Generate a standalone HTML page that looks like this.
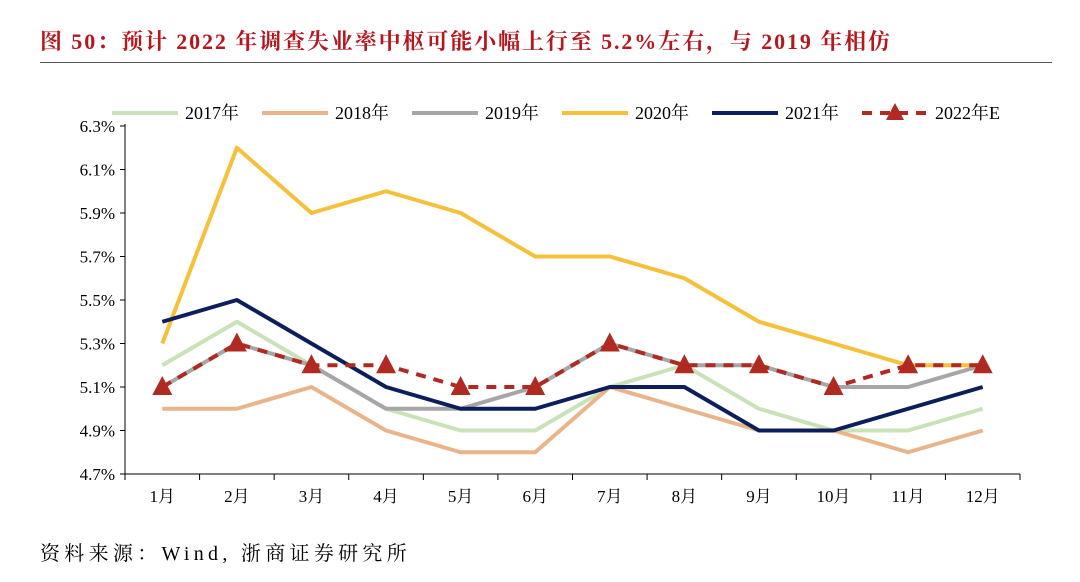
<!DOCTYPE html>
<html><head><meta charset="utf-8">
<style>
body{margin:0;background:#fff;width:1080px;height:582px;overflow:hidden;font-family:"Liberation Serif","Noto Serif CJK SC",serif;}
#title{position:absolute;left:40px;top:25px;font-size:22px;letter-spacing:1.9px;font-weight:bold;color:#b5171e;font-family:"Liberation Serif","Noto Serif CJK SC",serif;white-space:nowrap;}
#rule{position:absolute;left:40px;top:62px;width:1012px;height:1px;background:#555;}
#src{position:absolute;left:40px;top:537px;font-size:20px;letter-spacing:4.3px;color:#000;white-space:nowrap;}
svg{position:absolute;left:0;top:0;}
</style></head><body>
<div id="title">图 50：预计 2022 年调查失业率中枢可能小幅上行至 5.2%左右，与 2019 年相仿</div>
<div id="rule"></div>
<svg id="chart" width="1080" height="582"></svg>
<div id="src">资料来源：Wind, 浙商证券研究所</div>
<script>
const months=["1月","2月","3月","4月","5月","6月","7月","8月","9月","10月","11月","12月"];
const yTicks=[4.7,4.9,5.1,5.3,5.5,5.7,5.9,6.1,6.3];
const s2017=[5.2,5.4,5.2,5.0,4.9,4.9,5.1,5.2,5.0,4.9,4.9,5.0];
const s2018=[5.0,5.0,5.1,4.9,4.8,4.8,5.1,5.0,4.9,4.9,4.8,4.9];
const s2019=[5.1,5.3,5.2,5.0,5.0,5.1,5.3,5.2,5.2,5.1,5.1,5.2];
const s2020=[5.3,6.2,5.9,6.0,5.9,5.7,5.7,5.6,5.4,5.3,5.2,5.2];
const s2021=[5.4,5.5,5.3,5.1,5.0,5.0,5.1,5.1,4.9,4.9,5.0,5.1];
const s2022=[5.1,5.3,5.2,5.2,5.1,5.1,5.3,5.2,5.2,5.1,5.2,5.2];
const seriesNames=["2017年","2018年","2019年","2020年","2021年","2022年E"];
const NS="http://www.w3.org/2000/svg";
const svg=document.getElementById('chart');
const X0=125,X1=1020,Y0=474,Y1=126;
const bw=(X1-X0)/months.length;
function x(i){return X0+bw*(i+0.5);}
function y(v){return Y0-(v-4.7)/(6.3-4.7)*(Y0-Y1);}
function mk(t,a){const e=document.createElementNS(NS,t);for(const k in a)e.setAttribute(k,a[k]);svg.appendChild(e);return e;}
let ax=mk('line',{x1:X0,y1:Y1-2,x2:X0,y2:Y0,stroke:'#000','stroke-width':1});

let bx=mk('line',{x1:X0,y1:Y0,x2:X1,y2:Y0,stroke:'#000','stroke-width':1});

yTicks.forEach(v=>{
 let t=mk('line',{x1:X0-5,x2:X0,y1:y(v),y2:y(v),stroke:'#000'});
 
 let l=mk('text',{x:X0-10,y:y(v)+6,'text-anchor':'end','font-size':17});
 l.textContent=v.toFixed(1)+'%';
 
});
for(let i=0;i<=months.length;i++){
 let t=mk('line',{x1:X0+bw*i,x2:X0+bw*i,y1:Y0,y2:Y0+6,stroke:'#000'});
 
}
months.forEach((m,i)=>{
 let l=mk('text',{x:x(i),y:Y0+28,'text-anchor':'middle','font-size':17});
 l.textContent=m;
 
});
const styles=[
 {d:s2017,c:'#c9e2b8',w:4},
 {d:s2018,c:'#eab48a',w:4},
 {d:s2019,c:'#a6a6a6',w:4},
 {d:s2020,c:'#f6c03a',w:4},
 {d:s2021,c:'#0c1f5c',w:4},
 {d:s2022,c:'#b02a22',w:4,dash:'10,8'}
];
styles.forEach((s,k)=>{
 let p=mk('polyline',{points:s.d.map((v,i)=>x(i)+','+y(v)).join(' '),fill:'none',stroke:s.c,'stroke-width':s.w,'stroke-linejoin':'round'});
 if(s.dash)p.setAttribute('stroke-dasharray',s.dash);
 
 if(s.dash){s.d.forEach((v,i)=>{
  let cx=x(i),cy=y(v);
  let m=mk('polygon',{points:`${cx},${cy-11} ${cx-10},${cy+8} ${cx+10},${cy+8}`,fill:s.c});
  
 });}
 const lx=[112,262,412,562,712,862][k],ly=113;
 let ll=mk('line',{x1:lx,x2:lx+66,y1:ly,y2:ly,stroke:s.c,'stroke-width':4});
 if(s.dash){ll.setAttribute('stroke-dasharray','10,8');
  let m=mk('polygon',{points:`${lx+33},${ly-10} ${lx+24},${ly+7} ${lx+42},${ly+7}`,fill:s.c});
  }
 
 let lt=mk('text',{x:lx+73,y:ly+6,'font-size':18});
 lt.textContent=seriesNames[k];
 
});
</script>
</body></html>
